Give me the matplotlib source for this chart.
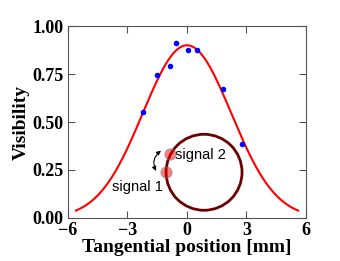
import numpy as np
import matplotlib.pyplot as plt
from matplotlib.patches import Ellipse, FancyArrowPatch

# measured visibility vs tangential position
pos = [-2.2, -1.5, -0.85, -0.55, 0.03, 0.52, 1.8, 2.76]
vis = [0.552, 0.745, 0.79, 0.91, 0.877, 0.873, 0.67, 0.385]

# gaussian fit parameters
amp, mu, sigma = 0.9, 0.0, 2.23
x_fit = np.linspace(-5.6, 5.6, 300)
y_fit = amp * np.exp(-(x_fit - mu) ** 2 / (2 * sigma ** 2))

# sketch of the detector ring and the two signal spots
ring_center = (0.86, 0.238)
spots_x = [-1.06, -0.84]
spots_y = [0.238, 0.333]
xticks = [-6, -3, 0, 3, 6]
yticks = [0.0, 0.25, 0.5, 0.75, 1.0]

plt.rcParams['font.family'] = 'Liberation Serif'
plt.rcParams['font.weight'] = 'bold'

fig = plt.figure(figsize=(3.4, 2.61), dpi=100)
ax = fig.add_axes([0.2, 0.165, 0.7, 0.735])

ax.plot(x_fit, y_fit, color='red', lw=1.5, zorder=3)
ax.plot(pos, vis, 'o', color='blue', ms=4, mec='none', zorder=4)

ring = Ellipse(ring_center, width=3.83, height=0.396, fill=False,
               edgecolor='#6b0000', lw=2, zorder=2)
ax.add_patch(ring)
ax.plot(spots_x, spots_y, 'o', ms=8, color='red', alpha=0.5, mec='gray', mew=1, zorder=5)

arr = FancyArrowPatch((-1.31, 0.35), (-1.56, 0.245), arrowstyle='<|-|>', mutation_scale=6,
                      connectionstyle='arc3,rad=0.4', color='black', lw=0.8,
                      shrinkA=0, shrinkB=0, zorder=5)
ax.add_patch(arr)

ax.text(-0.6, 0.33, 'signal 2', family='Liberation Sans', weight='normal', fontsize=10.5,
        ha='left', va='center')
ax.text(-1.2, 0.16, 'signal 1', family='Liberation Sans', weight='normal', fontsize=10.5,
        ha='right', va='center')

ax.set_xlim(-6, 6)
ax.set_ylim(0, 1)
ax.set_xticks(xticks)
ax.set_yticks(yticks)
ax.set_xticklabels(['\u22126', '\u22123', '0', '3', '6'])
ax.set_yticklabels(['%.2f' % v for v in yticks])
ax.tick_params(direction='in', top=True, right=True, length=5, labelsize=13, colors='#555555',
               labelcolor='black', pad=3)
for s in ax.spines.values():
    s.set_color('#555555')

ax.set_xlabel('Tangential position [mm]', fontsize=14, fontweight='bold', labelpad=0)
ax.set_ylabel('Visibility', fontsize=14, fontweight='bold', labelpad=2)

fig.savefig('out.png', dpi=100)
